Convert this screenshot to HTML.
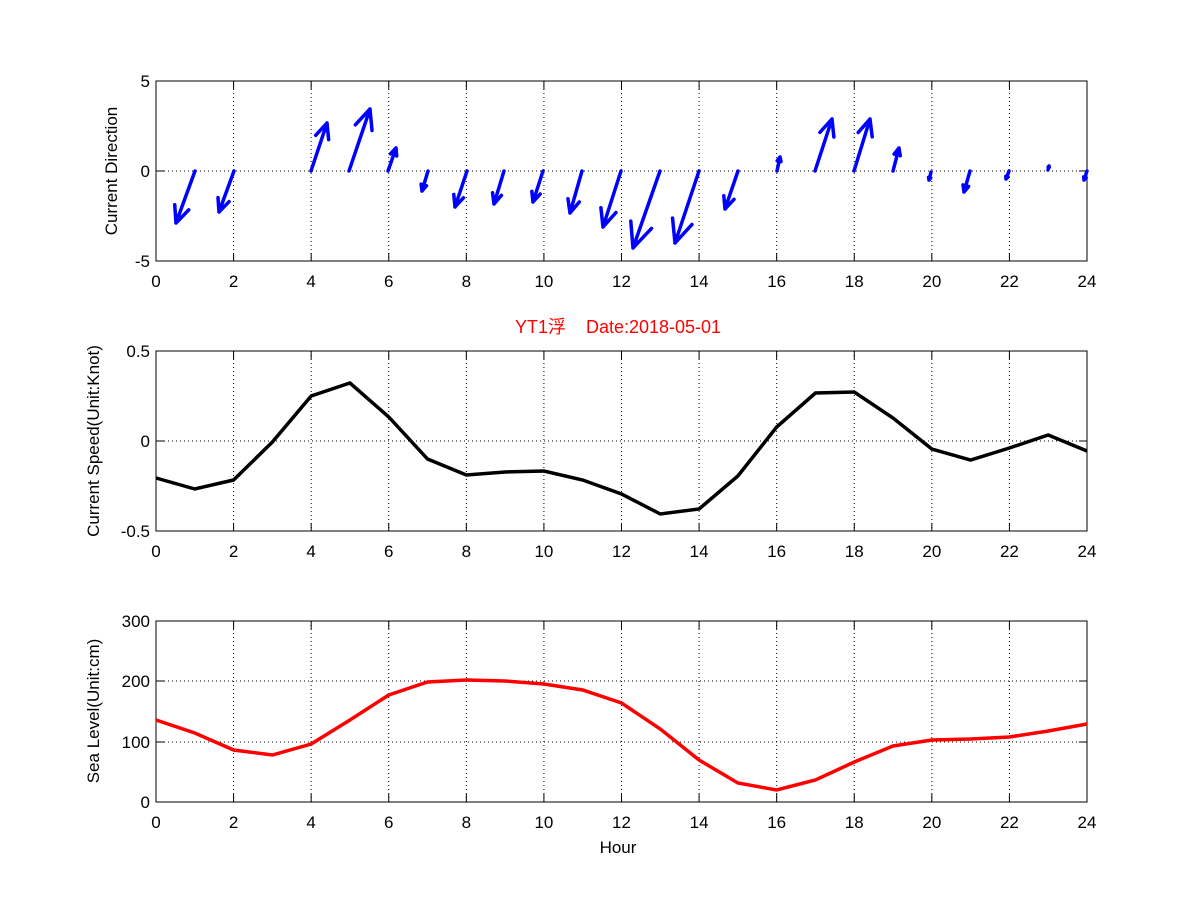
<!DOCTYPE html>
<html><head><meta charset="utf-8"><style>body{margin:0;background:#fff}svg{display:block}text{font-family:"Liberation Sans","Noto Sans CJK SC",sans-serif;font-size:17px}</style></head>
<body><svg id="s" width="1201" height="901" xmlns="http://www.w3.org/2000/svg"></svg>
<script>
const s=document.getElementById('s');let h='<rect width="1201" height="901" fill="#fff"/>';
const X0=156,X1=1087,xs=i=>X0+(X1-X0)*i/24;
function axes(y0,y1,yt){ // yt: [[pix,label]]
  for(let i=0;i<=24;i+=2){const x=xs(i);
    h+=`<line x1="${x}" y1="${y0}" x2="${x}" y2="${y1}" stroke="#000" stroke-dasharray="1,3"/>`;
    h+=`<line x1="${x}" y1="${y1}" x2="${x}" y2="${y1-8}" stroke="#000"/><line x1="${x}" y1="${y0}" x2="${x}" y2="${y0+8}" stroke="#000"/>`;
    h+=`<text x="${x}" y="${y1+26}" text-anchor="middle">${i}</text>`;}
  yt.forEach(([p,l])=>{h+=`<line x1="${X0}" y1="${p}" x2="${X1}" y2="${p}" stroke="#000" stroke-dasharray="1,3"/>`;
    h+=`<line x1="${X0}" y1="${p}" x2="${X0+8}" y2="${p}" stroke="#000"/><line x1="${X1}" y1="${p}" x2="${X1-8}" y2="${p}" stroke="#000"/>`;
    h+=`<text x="${X0-6}" y="${p+6}" text-anchor="end">${l}</text>`;});
  h+=`<rect x="${X0}" y="${y0}" width="${X1-X0}" height="${y1-y0}" fill="none" stroke="#000"/>`;}
axes(81,261,[[81,5],[171,0],[261,-5]]);
axes(351,531,[[351,'0.5'],[441,0],[531,'-0.5']]);
axes(621,802,[[621,300],[681,200],[742,100],[802,0]]);
h+=`<text transform="translate(117,171) rotate(-90)" text-anchor="middle">Current Direction</text>`;
h+=`<text transform="translate(99,441) rotate(-90)" text-anchor="middle">Current Speed(Unit:Knot)</text>`;
h+=`<text transform="translate(99,711) rotate(-90)" text-anchor="middle">Sea Level(Unit:cm)</text>`;
h+=`<text x="618" y="853" text-anchor="middle">Hour</text>`;
h+=`<text x="618" y="333" text-anchor="middle" fill="#f00" xml:space="preserve" style="font-size:18px">YT1浮    Date:2018-05-01</text>`;
const A=[[195,171,176,223],[234,171,219,212],[311,171,327,123],[349,171,370,109],[388,171,396,148],[428,171,422,191],[467,171,455,207],[504,171,494,204],[543,171,533,202],[582,171,570,213],[621,171,603,227],[660,171,633,248],[699,171,675,243],[738,171,725,209],[777,171,780,157],[815,171,832,119],[854,171,870,119],[893,171,899,148],[931,172,929,180],[970,171,964,192],[1009,171,1006,179],[1048,170,1049,166],[1087,171,1084,180]];
A.forEach(([a,b,c,d])=>{const dx=c-a,dy=d-b,L=Math.hypot(dx,dy),ang=Math.atan2(dy,dx),hl=L*0.33;
 let p=`M${a} ${b}L${c} ${d}`;[0.42,-0.42].forEach(t=>{p+=`M${c} ${d}L${c-hl*Math.cos(ang+t)} ${d-hl*Math.sin(ang+t)}`});
 h+=`<path d="${p}" stroke="#00f" stroke-width="3.5" fill="none" stroke-linecap="round"/>`;});
const sp=[478,489,480,442,396,383,417,459,475,472,471,480,494,514,509,476,427,393,392,418,449,460,448,435,451];
const sl=[720,733,750,755,744,720,695,682,680,681,684,690,703,729,760,783,790,780,762,746,740,739,737,731,724];
h+=`<polyline points="${sp.map((y,i)=>xs(i)+','+y).join(' ')}" fill="none" stroke="#000" stroke-width="3.5"/>`;
h+=`<polyline points="${sl.map((y,i)=>xs(i)+','+y).join(' ')}" fill="none" stroke="#f00" stroke-width="3.5"/>`;
s.innerHTML=h;
</script></body></html>
